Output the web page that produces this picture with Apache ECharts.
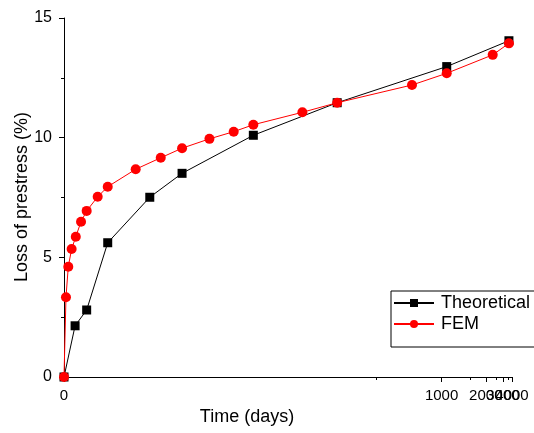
<!DOCTYPE html>
<html>
<head>
<meta charset="utf-8">
<script src="https://cdn.jsdelivr.net/npm/echarts@6/dist/echarts.min.js"></script>
<style>
html,body{margin:0;padding:0;background:#fff;}
#chart{width:534px;height:433px;}
</style>
</head>
<body>
<div id="chart"></div>
<script>
// Data
const theoDays = [0, 6.3, 13.2, 26.7, 58, 87, 174, 354, 1068, 3600];
const theoLoss = [0, 2.14, 2.80, 5.61, 7.51, 8.51, 10.10, 11.46, 12.97, 14.05];
const femDays = [0, 1.1, 2.4, 4.3, 6.7, 9.8, 13.2, 20.1, 26.7, 46.8, 67.3, 87, 116, 146, 174, 264, 354, 711, 1068, 2320, 3600];
const femLoss = [0, 3.33, 4.61, 5.35, 5.86, 6.49, 6.94, 7.53, 7.95, 8.68, 9.16, 9.56, 9.95, 10.25, 10.54, 11.06, 11.46, 12.20, 12.69, 13.46, 13.94];
const majorTicks = [0, 1000, 2000, 3000, 4000];
const labelTicksA = [0, 1000, 4000];
const labelTicksB = [2000];
const labelTicksC = [3000];
const minorTicks = [500, 1500, 2500, 3500];
const seriesNames = ['Theoretical', 'FEM'];
const yTitle = 'Loss of prestress (%)';

// Nonlinear (reciprocal) time axis: u = t / (t + A)
const A = 265;
const fwd = t => t / (t + A);
const inv = u => A * u / (1 - u);

const font = 'Liberation Sans, Arial, sans-serif';
const xMax = fwd(4000);
const labelStyle = {
  show: true, margin: 11, fontFamily: font, fontSize: 15, color: '#000',
  hideOverlap: false,
  formatter: v => String(Math.round(inv(v) / 100) * 100)
};
const extraAxis = (ticks, labels) => ({
  type: 'value', min: 0, max: xMax, position: 'bottom',
  axisLine: {show: false},
  axisTick: ticks ? {show: true, inside: false, length: 3, customValues: ticks.map(fwd), lineStyle: {color: '#000'}} : {show: false},
  axisLabel: Object.assign({}, labelStyle, {customValues: labels.map(fwd), showMinLabel: false, showMaxLabel: false}),
  splitLine: {show: false}
});

const chart = echarts.init(document.getElementById('chart'), null, {renderer: 'canvas'});
chart.setOption({
  animation: false,
  backgroundColor: '#fff',
  grid: {left: 64, right: 22, top: 18, bottom: 56, containLabel: false, outerBoundsMode: 'none'},
  graphic: [{
    type: 'text', x: 22, y: 197, rotation: Math.PI / 2,
    style: {text: yTitle, fontFamily: font, fontSize: 18, fill: '#000', align: 'center', verticalAlign: 'middle'}
  }],
  legend: {
    left: 391, top: 291,
    orient: 'vertical',
    data: seriesNames,
    itemWidth: 40, itemHeight: 10, itemGap: 3,
    padding: [3, 20, 14, 2],
    borderColor: '#000', borderWidth: 1,
    backgroundColor: '#fff',
    textStyle: {fontFamily: font, fontSize: 18, color: '#000', padding: [0, 0, 0, 2]}
  },
  xAxis: [{
    type: 'value', min: 0, max: xMax,
    name: 'Time (days)', nameLocation: 'middle', nameGap: 31,
    nameTextStyle: {fontFamily: font, fontSize: 18, color: '#000', padding: [0, 82, 0, 0]},
    axisLine: {show: true, lineStyle: {color: '#000', width: 1}},
    axisTick: {show: true, inside: false, length: 5, customValues: majorTicks.map(fwd), lineStyle: {color: '#000'}},
    axisLabel: Object.assign({customValues: labelTicksA.map(fwd), showMinLabel: true, showMaxLabel: true}, labelStyle),
    splitLine: {show: false}
  }, extraAxis(minorTicks, labelTicksB), extraAxis(null, labelTicksC)],
  yAxis: {
    type: 'value', min: 0, max: 15, interval: 5,
    axisLine: {show: true, lineStyle: {color: '#000', width: 1}},
    axisTick: {show: true, inside: false, length: 5, lineStyle: {color: '#000'}},
    minorTick: {show: true, splitNumber: 2, length: 3, lineStyle: {color: '#000'}},
    axisLabel: {margin: 12, fontFamily: font, fontSize: 16, color: '#000'},
    splitLine: {show: false}
  },
  series: [{
    name: seriesNames[0], type: 'line',
    data: theoDays.map((t, i) => [fwd(t), theoLoss[i]]),
    symbol: 'rect', symbolSize: 9,
    lineStyle: {color: '#000', width: 1},
    itemStyle: {color: '#000'},
    clip: false
  }, {
    name: seriesNames[1], type: 'line',
    data: femDays.map((t, i) => [fwd(t), femLoss[i]]),
    symbol: 'circle', symbolSize: 10,
    lineStyle: {color: '#ff0000', width: 1},
    itemStyle: {color: '#ff0000'},
    clip: false
  }]
});
</script>
</body>
</html>
